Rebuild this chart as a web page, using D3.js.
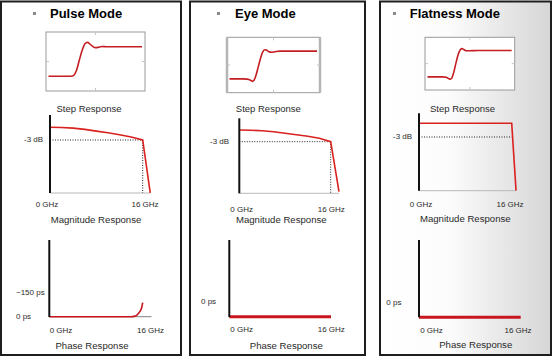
<!DOCTYPE html>
<html><head><meta charset="utf-8">
<script src="https://cdn.jsdelivr.net/npm/d3@7/dist/d3.min.js"></script>
<style>html,body{margin:0;padding:0;background:#fff}svg{display:block}text{font-family:Arial,"Liberation Sans",sans-serif}</style>
</head><body>
<svg id="c" width="554" height="359"></svg>
<script>
// ---- data ----
const modes = ["Pulse Mode", "Eye Mode", "Flatness Mode"];
const chartTitles = ["Step Response", "Magnitude Response", "Phase Response"];
const freqTickLabels = ["0 GHz", "16 GHz"];
const magTickLabel = "-3 dB";
const phaseTickLabels = [["~150 ps", "0 ps"], ["0 ps"], ["0 ps"]];

// step responses: time (0-100), normalized level
const pulseStepT = [0, 24, 27, 30, 33, 36, 38, 40, 42, 44, 47, 50, 53, 57, 62, 100];
const pulseStepV = [0, 0, 0.03, 0.2, 0.55, 0.88, 1.05, 1.13, 1.15, 1.1, 1.02, 0.97, 0.98, 1.01, 1.0, 1.0];
const eyeStepT = [0, 15, 20, 24, 26, 28, 30, 33, 36, 38, 40, 42, 45, 48, 52, 58, 100];
const eyeStepV = [0, 0, -0.01, -0.05, -0.09, -0.05, 0.1, 0.45, 0.8, 0.97, 1.05, 1.04, 0.98, 0.96, 0.98, 1.0, 1.0];
const flatStepT = [0, 18, 22, 25, 27, 29, 31, 34, 37, 39, 41, 43, 46, 50, 60, 100];
const flatStepV = [0, 0, -0.02, -0.06, -0.09, -0.04, 0.15, 0.55, 0.9, 1.03, 1.07, 1.04, 0.99, 0.99, 1.0, 1.0];

// magnitude responses: GHz, dB
const pulseMagF = [0, 2, 4, 6, 8, 10, 12, 14, 16, 17.3];
const pulseMagDb = [0, -0.05, -0.2, -0.5, -0.9, -1.3, -1.75, -2.3, -3, -15.5];
const eyeMagF = [0, 2, 4, 6, 8, 10, 12, 14, 16, 17.45];
const eyeMagDb = [0, -0.05, -0.2, -0.45, -0.85, -1.2, -1.6, -2.1, -3, -15.8];
const flatMagF = [0, 16, 16.75];
const flatMagDb = [0, 0, -14.75];

// phase responses: GHz, ps (group delay deviation)
const pulsePhaseF = [0, 14, 14.5, 15, 15.5, 15.8, 16];
const pulsePhasePs = [0, 0, 2, 10, 31, 52, 86];
const eyePhaseF = [0, 16];
const eyePhasePs = [0, 0];
const flatPhaseF = [0, 16];
const flatPhasePs = [0, 0];

const stepData = [[pulseStepT, pulseStepV], [eyeStepT, eyeStepV], [flatStepT, flatStepV]];
const magData = [[pulseMagF, pulseMagDb], [eyeMagF, eyeMagDb], [flatMagF, flatMagDb]];
const phaseData = [[pulsePhaseF, pulsePhasePs], [eyePhaseF, eyePhasePs], [flatPhaseF, flatPhasePs]];

// ---- layout ----
const L = [
  {px: 1, pw: 180, tx: 50, bx: 33,
   step: {x: 46, y: 32, w: 99, h: 59, thick: false}, stepLab: 89,
   mag: {ax: 50, x16: 142.7, top: 115, bottom: 193, y0: 127.3, y3: 140, vdot: true,
         dbx: 24, g0: 47, g16: 145, gy: 204, lab: 96, laby: 220},
   ph: {ax: 49.3, x16: 142.7, top: 240, bottom: 317, y0: 316.7, ppx: 0.163, w: 1.6,
        gray: 17.5, lx: 16, ly: [292.3, 316], g0: 61, g16: 150.5, gy: 330, lab: 92, laby: 345.7}},
  {px: 190, pw: 175, tx: 235, bx: 217,
   step: {x: 227, y: 37.3, w: 93, h: 55.4, thick: true}, stepLab: 268.3,
   mag: {ax: 239.3, x16: 330.7, top: 118.3, bottom: 193.3, y0: 130, y3: 141.7, vdot: true,
         dbx: 210, g0: 241.7, g16: 331.3, gy: 209, lab: 281.3, laby: 220},
   ph: {ax: 229.3, x16: 331, top: 240, bottom: 317, y0: 316.7, ppx: 0.163, w: 3,
        gray: null, lx: 201, ly: [301], g0: 241.7, g16: 331.3, gy: 329, lab: 286.3, laby: 345.7}},
  {px: 380, pw: 171, tx: 409.7, bx: 393,
   step: {x: 425, y: 37.3, w: 89.7, h: 52.7, thick: false}, stepLab: 462.5,
   mag: {ax: 419, x16: 511.7, top: 113.3, bottom: 190.7, y0: 123.3, y3: 137, vdot: false,
         dbx: 393, g0: 421, g16: 510, gy: 204.3, lab: 465.3, laby: 219},
   ph: {ax: 419, x16: 520.7, top: 240, bottom: 317.3, y0: 317.3, ppx: 0.163, w: 3,
        gray: null, lx: 386.3, ly: [301.7], g0: 431.5, g16: 518, gy: 330, lab: 475.7, laby: 345}}
];

const svg = d3.select("#c");
const defs = svg.append("defs");
const grad = defs.append("linearGradient").attr("id", "g3").attr("x1", "0%").attr("x2", "100%");
grad.append("stop").attr("offset", "0%").attr("stop-color", "#ffffff");
grad.append("stop").attr("offset", "40%").attr("stop-color", "#fcfcfc");
grad.append("stop").attr("offset", "100%").attr("stop-color", "#d6d6d6");

const TXT = "#2a2a2a";
function label(x, y, s, size, anchor, weight) {
  svg.append("text").attr("x", x).attr("y", y).attr("dy", "0.35em")
    .attr("text-anchor", anchor || "middle").attr("font-size", size)
    .attr("font-weight", weight || "normal").attr("fill", TXT).text(s);
}

L.forEach((p, i) => {
  // panel frame
  svg.append("rect").attr("x", p.px).attr("y", 1.5).attr("width", p.pw).attr("height", 353.5)
    .attr("fill", i === 2 ? "url(#g3)" : "#fff").attr("stroke", "#1e1e1e").attr("stroke-width", 2);
  // bullet and title
  svg.append("rect").attr("x", p.bx).attr("y", 12).attr("width", 3).attr("height", 3).attr("fill", "#8a8a8a");
  svg.append("text").attr("x", p.tx).attr("y", 18).attr("font-size", 13).attr("font-weight", "bold")
    .attr("fill", "#000").text(modes[i]);

  // ---- step response ----
  const s = p.step;
  const g = svg.append("g");
  g.append("rect").attr("x", s.x).attr("y", s.y).attr("width", s.w).attr("height", s.h)
    .attr("fill", "#fff").attr("stroke", "#9a9a9a").attr("stroke-width", 1);
  if (s.thick) {
    [s.x, s.x + s.w].forEach(xx => g.append("line").attr("x1", xx).attr("x2", xx)
      .attr("y1", s.y).attr("y2", s.y + s.h).attr("stroke", "#b5b5b5").attr("stroke-width", 2.5));
  }
  // faint mid ticks
  const mx = s.x + s.w / 2, my = s.y + s.h / 2;
  [[mx, s.y, mx, s.y + 3], [mx, s.y + s.h, mx, s.y + s.h - 3], [s.x, my, s.x + 3, my], [s.x + s.w, my, s.x + s.w - 3, my]]
    .forEach(t => g.append("line").attr("x1", t[0]).attr("y1", t[1]).attr("x2", t[2]).attr("y2", t[3])
      .attr("stroke", "#c4c4c4").attr("stroke-width", 1));
  const sx = d3.scaleLinear().domain([0, 100]).range([s.x + 2.5, s.x + s.w - 3]);
  const sy = d3.scaleLinear().domain([-0.5, 1.5]).range([s.y + s.h, s.y]);
  const [st, sv] = stepData[i];
  g.append("path").datum(st.map((t, k) => [t, sv[k]]))
    .attr("fill", "none").attr("stroke", "#c41e22").attr("stroke-width", 1.6)
    .attr("d", d3.line().x(d => sx(d[0])).y(d => sy(d[1])).curve(d3.curveMonotoneX));
  label(p.stepLab, 109, chartTitles[0], 9.5);

  // ---- magnitude response ----
  const m = p.mag;
  const mxs = d3.scaleLinear().domain([0, 16]).range([m.ax, m.x16]);
  const mys = d3.scaleLinear().domain([0, -3]).range([m.y0, m.y3]);
  const [mf, md] = magData[i];
  const xEnd = mxs(d3.max(mf));
  svg.append("line").attr("x1", m.ax).attr("x2", xEnd).attr("y1", m.bottom).attr("y2", m.bottom)
    .attr("stroke", "#b8b8b8").attr("stroke-width", 1);
  // dotted -3 dB guides
  svg.append("line").attr("x1", m.ax).attr("x2", mxs(16)).attr("y1", mys(-3)).attr("y2", mys(-3))
    .attr("stroke", "#222").attr("stroke-width", 1).attr("stroke-dasharray", "1,1.5");
  if (m.vdot) {
    svg.append("line").attr("x1", mxs(16)).attr("x2", mxs(16)).attr("y1", mys(-3)).attr("y2", m.bottom)
      .attr("stroke", "#222").attr("stroke-width", 1).attr("stroke-dasharray", "1,1.5");
  }
  svg.append("path").datum(mf.map((f, k) => [f, md[k]]))
    .attr("fill", "none").attr("stroke", "#d9221f").attr("stroke-width", 1.6)
    .attr("d", d3.line().x(d => mxs(d[0])).y(d => mys(d[1])));
  svg.append("line").attr("x1", m.ax).attr("x2", m.ax).attr("y1", m.top).attr("y2", m.bottom)
    .attr("stroke", "#111").attr("stroke-width", 2);
  label(m.dbx, m.y3 - 0.5, magTickLabel, 8, "start");
  label(m.g0, m.gy, freqTickLabels[0], 8);
  label(m.g16, m.gy, freqTickLabels[1], 8);
  label(m.lab, m.laby, chartTitles[1], 9.6);

  // ---- phase response ----
  const ph = p.ph;
  const pxs = d3.scaleLinear().domain([0, 16]).range([ph.ax, ph.x16]);
  const pys = d3.scaleLinear().domain([0, 150]).range([ph.y0, ph.y0 - 150 * ph.ppx]);
  if (ph.gray) {
    svg.append("line").attr("x1", ph.ax).attr("x2", pxs(ph.gray)).attr("y1", pys(0)).attr("y2", pys(0))
      .attr("stroke", "#9a9a9a").attr("stroke-width", 1.3);
  }
  const [pf, pp] = phaseData[i];
  svg.append("path").datum(pf.map((f, k) => [f, pp[k]]))
    .attr("fill", "none").attr("stroke", "#c8161e").attr("stroke-width", ph.w)
    .attr("d", d3.line().x(d => pxs(d[0])).y(d => pys(d[1])).curve(d3.curveMonotoneX));
  svg.append("line").attr("x1", ph.ax).attr("x2", ph.ax).attr("y1", ph.top).attr("y2", ph.bottom)
    .attr("stroke", "#111").attr("stroke-width", 2);
  phaseTickLabels[i].forEach((t, k) => label(ph.lx, ph.ly[k], t, 8, "start"));
  label(ph.g0, ph.gy, freqTickLabels[0], 8);
  label(ph.g16, ph.gy, freqTickLabels[1], 8);
  label(ph.lab, ph.laby, chartTitles[2], 9.6);
});
</script>
</body></html>
